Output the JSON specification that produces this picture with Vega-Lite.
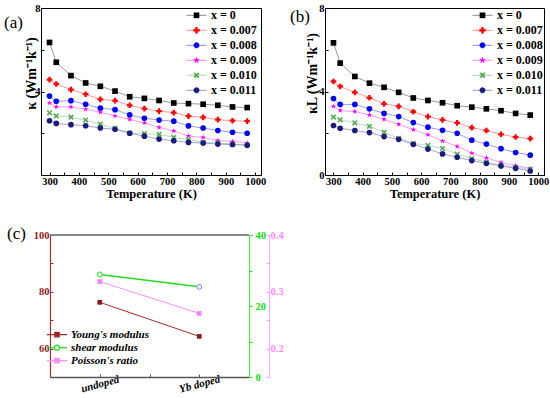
{
  "$schema": "https://vega.github.io/schema/vega-lite/v6.json",
  "padding": {"left": 3, "top": 2, "right": 0, "bottom": 2},
  "config": {"view": {"stroke": null}, "font": "Liberation Serif"},
  "datasets": {
    "ka": [
      {"T":300,"s":"x = 0","k":6.35},{"T":323,"s":"x = 0","k":5.40},{"T":373,"s":"x = 0","k":4.76},{"T":423,"s":"x = 0","k":4.41},{"T":473,"s":"x = 0","k":4.25},{"T":523,"s":"x = 0","k":4.02},{"T":573,"s":"x = 0","k":3.75},{"T":623,"s":"x = 0","k":3.67},{"T":673,"s":"x = 0","k":3.57},{"T":723,"s":"x = 0","k":3.45},{"T":773,"s":"x = 0","k":3.42},{"T":823,"s":"x = 0","k":3.39},{"T":873,"s":"x = 0","k":3.34},{"T":923,"s":"x = 0","k":3.26},{"T":973,"s":"x = 0","k":3.23},
      {"T":300,"s":"x = 0.007","k":4.57},{"T":323,"s":"x = 0.007","k":4.36},{"T":373,"s":"x = 0.007","k":4.09},{"T":423,"s":"x = 0.007","k":3.87},{"T":473,"s":"x = 0.007","k":3.62},{"T":523,"s":"x = 0.007","k":3.56},{"T":573,"s":"x = 0.007","k":3.34},{"T":623,"s":"x = 0.007","k":3.18},{"T":673,"s":"x = 0.007","k":3.06},{"T":723,"s":"x = 0.007","k":2.99},{"T":773,"s":"x = 0.007","k":2.82},{"T":823,"s":"x = 0.007","k":2.76},{"T":873,"s":"x = 0.007","k":2.65},{"T":923,"s":"x = 0.007","k":2.60},{"T":973,"s":"x = 0.007","k":2.58},
      {"T":300,"s":"x = 0.008","k":3.78},{"T":323,"s":"x = 0.008","k":3.53},{"T":373,"s":"x = 0.008","k":3.56},{"T":423,"s":"x = 0.008","k":3.39},{"T":473,"s":"x = 0.008","k":3.20},{"T":523,"s":"x = 0.008","k":3.13},{"T":573,"s":"x = 0.008","k":2.88},{"T":623,"s":"x = 0.008","k":2.72},{"T":673,"s":"x = 0.008","k":2.63},{"T":723,"s":"x = 0.008","k":2.58},{"T":773,"s":"x = 0.008","k":2.35},{"T":823,"s":"x = 0.008","k":2.25},{"T":873,"s":"x = 0.008","k":2.13},{"T":923,"s":"x = 0.008","k":2.05},{"T":973,"s":"x = 0.008","k":2.00},
      {"T":300,"s":"x = 0.009","k":3.45},{"T":323,"s":"x = 0.009","k":3.26},{"T":373,"s":"x = 0.009","k":3.26},{"T":423,"s":"x = 0.009","k":3.15},{"T":473,"s":"x = 0.009","k":3.01},{"T":523,"s":"x = 0.009","k":2.83},{"T":573,"s":"x = 0.009","k":2.66},{"T":623,"s":"x = 0.009","k":2.50},{"T":673,"s":"x = 0.009","k":2.28},{"T":723,"s":"x = 0.009","k":2.11},{"T":773,"s":"x = 0.009","k":1.87},{"T":823,"s":"x = 0.009","k":1.80},{"T":873,"s":"x = 0.009","k":1.65},{"T":923,"s":"x = 0.009","k":1.61},{"T":973,"s":"x = 0.009","k":1.54},
      {"T":300,"s":"x = 0.010","k":2.98},{"T":323,"s":"x = 0.010","k":2.83},{"T":373,"s":"x = 0.010","k":2.77},{"T":423,"s":"x = 0.010","k":2.63},{"T":473,"s":"x = 0.010","k":2.44},{"T":523,"s":"x = 0.010","k":2.24},{"T":573,"s":"x = 0.010","k":2.02},{"T":623,"s":"x = 0.010","k":1.98},{"T":673,"s":"x = 0.010","k":1.95},{"T":723,"s":"x = 0.010","k":1.80},{"T":773,"s":"x = 0.010","k":1.69},{"T":823,"s":"x = 0.010","k":1.57},{"T":873,"s":"x = 0.010","k":1.54},{"T":923,"s":"x = 0.010","k":1.48},{"T":973,"s":"x = 0.010","k":1.46},
      {"T":300,"s":"x = 0.011","k":2.60},{"T":323,"s":"x = 0.011","k":2.47},{"T":373,"s":"x = 0.011","k":2.41},{"T":423,"s":"x = 0.011","k":2.36},{"T":473,"s":"x = 0.011","k":2.25},{"T":523,"s":"x = 0.011","k":2.19},{"T":573,"s":"x = 0.011","k":2.00},{"T":623,"s":"x = 0.011","k":1.86},{"T":673,"s":"x = 0.011","k":1.72},{"T":723,"s":"x = 0.011","k":1.64},{"T":773,"s":"x = 0.011","k":1.56},{"T":823,"s":"x = 0.011","k":1.53},{"T":873,"s":"x = 0.011","k":1.48},{"T":923,"s":"x = 0.011","k":1.46},{"T":973,"s":"x = 0.011","k":1.42}
    ],
    "kl": [
      {"T":300,"s":"x = 0","k":6.33},{"T":323,"s":"x = 0","k":5.36},{"T":373,"s":"x = 0","k":4.72},{"T":423,"s":"x = 0","k":4.40},{"T":473,"s":"x = 0","k":4.20},{"T":523,"s":"x = 0","k":3.96},{"T":573,"s":"x = 0","k":3.69},{"T":623,"s":"x = 0","k":3.57},{"T":673,"s":"x = 0","k":3.46},{"T":723,"s":"x = 0","k":3.32},{"T":773,"s":"x = 0","k":3.25},{"T":823,"s":"x = 0","k":3.17},{"T":873,"s":"x = 0","k":3.08},{"T":923,"s":"x = 0","k":2.95},{"T":973,"s":"x = 0","k":2.87},
      {"T":300,"s":"x = 0.007","k":4.48},{"T":323,"s":"x = 0.007","k":4.24},{"T":373,"s":"x = 0.007","k":3.96},{"T":423,"s":"x = 0.007","k":3.70},{"T":473,"s":"x = 0.007","k":3.41},{"T":523,"s":"x = 0.007","k":3.29},{"T":573,"s":"x = 0.007","k":3.03},{"T":623,"s":"x = 0.007","k":2.80},{"T":673,"s":"x = 0.007","k":2.64},{"T":723,"s":"x = 0.007","k":2.50},{"T":773,"s":"x = 0.007","k":2.27},{"T":823,"s":"x = 0.007","k":2.13},{"T":873,"s":"x = 0.007","k":1.95},{"T":923,"s":"x = 0.007","k":1.82},{"T":973,"s":"x = 0.007","k":1.74},
      {"T":300,"s":"x = 0.008","k":3.66},{"T":323,"s":"x = 0.008","k":3.38},{"T":373,"s":"x = 0.008","k":3.38},{"T":423,"s":"x = 0.008","k":3.17},{"T":473,"s":"x = 0.008","k":2.95},{"T":523,"s":"x = 0.008","k":2.80},{"T":573,"s":"x = 0.008","k":2.51},{"T":623,"s":"x = 0.008","k":2.29},{"T":673,"s":"x = 0.008","k":2.14},{"T":723,"s":"x = 0.008","k":2.00},{"T":773,"s":"x = 0.008","k":1.67},{"T":823,"s":"x = 0.008","k":1.48},{"T":873,"s":"x = 0.008","k":1.26},{"T":923,"s":"x = 0.008","k":1.08},{"T":973,"s":"x = 0.008","k":0.95},
      {"T":300,"s":"x = 0.009","k":3.29},{"T":323,"s":"x = 0.009","k":3.09},{"T":373,"s":"x = 0.009","k":3.04},{"T":423,"s":"x = 0.009","k":2.88},{"T":473,"s":"x = 0.009","k":2.67},{"T":523,"s":"x = 0.009","k":2.43},{"T":573,"s":"x = 0.009","k":2.17},{"T":623,"s":"x = 0.009","k":1.93},{"T":673,"s":"x = 0.009","k":1.63},{"T":723,"s":"x = 0.009","k":1.37},{"T":773,"s":"x = 0.009","k":1.05},{"T":823,"s":"x = 0.009","k":0.82},{"T":873,"s":"x = 0.009","k":0.60},{"T":923,"s":"x = 0.009","k":0.45},{"T":973,"s":"x = 0.009","k":0.31},
      {"T":300,"s":"x = 0.010","k":2.77},{"T":323,"s":"x = 0.010","k":2.64},{"T":373,"s":"x = 0.010","k":2.50},{"T":423,"s":"x = 0.010","k":2.33},{"T":473,"s":"x = 0.010","k":2.05},{"T":523,"s":"x = 0.010","k":1.76},{"T":573,"s":"x = 0.010","k":1.51},{"T":623,"s":"x = 0.010","k":1.42},{"T":673,"s":"x = 0.010","k":1.27},{"T":723,"s":"x = 0.010","k":1.00},{"T":773,"s":"x = 0.010","k":0.79},{"T":823,"s":"x = 0.010","k":0.61},{"T":873,"s":"x = 0.010","k":0.48},{"T":923,"s":"x = 0.010","k":0.37},{"T":973,"s":"x = 0.010","k":0.27},
      {"T":300,"s":"x = 0.011","k":2.37},{"T":323,"s":"x = 0.011","k":2.24},{"T":373,"s":"x = 0.011","k":2.13},{"T":423,"s":"x = 0.011","k":2.03},{"T":473,"s":"x = 0.011","k":1.84},{"T":523,"s":"x = 0.011","k":1.71},{"T":573,"s":"x = 0.011","k":1.47},{"T":623,"s":"x = 0.011","k":1.24},{"T":673,"s":"x = 0.011","k":1.01},{"T":723,"s":"x = 0.011","k":0.85},{"T":773,"s":"x = 0.011","k":0.69},{"T":823,"s":"x = 0.011","k":0.56},{"T":873,"s":"x = 0.011","k":0.43},{"T":923,"s":"x = 0.011","k":0.32},{"T":973,"s":"x = 0.011","k":0.19}
    ],
    "mech": [
      {"cat": 1, "young": 76.3, "shear": 28.9, "poisson": 0.318},
      {"cat": 2, "young": 64.3, "shear": 25.4, "poisson": 0.262}
    ]
  },
  "vconcat": [
    {
      "hconcat": [
        {
          "width": 220, "height": 167,
          "data": {"name": "ka"},
          "view": {"stroke": "black", "strokeWidth": 1},
          "title": {"text": "(a)", "anchor": "start", "frame": "group", "orient": "top", "offset": 0, "dx": -37, "dy": 37, "baseline": "middle", "fontSize": 17, "fontWeight": "normal", "color": "black"},
          "encoding": {
            "x": {"field": "T", "type": "quantitative", "scale": {"domain": [271, 1020], "nice": false, "zero": false},
              "axis": {"values": [300,350,400,450,500,550,600,650,700,750,800,850,900,950,1000], "format": "d", "labelExpr": "datum.value % 100 === 0 ? datum.label : ''", "title": "Temperature (K)", "titleFontSize": 12.5, "titleFontWeight": "bold", "titleColor": "black", "titleY": 18, "titleBaseline": "middle", "labelFontSize": 10.5, "labelFontWeight": "bold", "labelColor": "black", "labelPadding": 4, "tickSize": -3, "tickColor": "black", "domainColor": "black", "grid": false, "labelFlush": false, "labelOverlap": false}},
            "y": {"field": "k", "type": "quantitative", "scale": {"domain": [0, 8], "nice": false},
              "axis": {"values": [0,2,4,6,8], "labelExpr": "datum.value === 4 || datum.value === 8 ? datum.label : ''", "title": "κ (Wm⁻¹k⁻¹)", "titleX": -10, "titleY": 65, "titleBaseline": "middle", "titleFontSize": 14, "titleFontWeight": "bold", "titleColor": "black", "labelFontSize": 10.5, "labelFontWeight": "bold", "labelColor": "black", "labelPadding": 4, "tickSize": -3, "tickColor": "black", "domainColor": "black", "grid": false, "labelFlush": false, "labelOverlap": false}}
          },
          "layer": [
            {"mark": {"type": "line", "strokeWidth": 0.9, "opacity": 0.45},
             "encoding": {"color": {"field": "s", "type": "nominal",
              "scale": {"domain": ["x = 0","x = 0.007","x = 0.008","x = 0.009","x = 0.010","x = 0.011"], "range": ["#000000","#ff0000","#0000ff","#ff00ff","#55aa55","#1a1a80"]},
              "legend": {"orient": "none", "legendX": 145, "legendY": 0, "title": null, "padding": 0, "symbolSize": 400, "symbolOpacity": 1, "clipHeight": 14.6, "rowPadding": 0, "labelOffset": 4, "labelFontSize": 12, "labelFontWeight": "bold", "labelColor": "black",
                "encode": {"symbols": {"update": {
                  "shape": {"signal": "datum.value === 'x = 0' ? 'M-1,0H1M-0.26,-0.26H0.26V0.26H-0.26Z' : datum.value === 'x = 0.007' ? 'M-1,0H1M-0.1,-0.3H0.1V-0.1H0.3V0.1H0.1V0.3H-0.1V0.1H-0.3V-0.1H-0.1Z' : datum.value === 'x = 0.009' ? 'M-1,0H1M0,-0.3L0.072,-0.099L0.285,-0.093L0.114,0.036L0.177,0.243L0,0.12L-0.177,0.243L-0.114,0.036L-0.285,-0.093L-0.072,-0.099Z' : datum.value === 'x = 0.010' ? 'M-1,0H1M-0.27,-0.16L-0.16,-0.27L0,-0.11L0.16,-0.27L0.27,-0.16L0.11,0L0.27,0.16L0.16,0.27L0,0.11L-0.16,0.27L-0.27,0.16L-0.11,0Z' : 'M-1,0H1M-0.27,0A0.27,0.27,0,1,0,0.27,0A0.27,0.27,0,1,0,-0.27,0Z'"},
                  "fill": {"signal": "datum.value === 'x = 0' ? '#000000' : datum.value === 'x = 0.007' ? '#ff0000' : datum.value === 'x = 0.008' ? '#0000ff' : datum.value === 'x = 0.009' ? '#ff00ff' : datum.value === 'x = 0.010' ? '#55aa55' : '#1a1a80'"},
                  "strokeOpacity": {"value": 0.45}, "fillOpacity": {"value": 1}, "opacity": {"value": 1}, "strokeWidth": {"value": 1}
                }}}}}}},
            {"mark": {"type": "point", "filled": true, "size": 32, "opacity": 1},
             "encoding": {
               "fill": {"field": "s", "type": "nominal", "legend": null,
                 "scale": {"domain": ["x = 0.011","x = 0.010","x = 0.009","x = 0.008","x = 0.007","x = 0"], "range": ["#1a1a80","#55aa55","#ff00ff","#0000ff","#ff0000","#000000"]}},
               "shape": {"field": "s", "type": "nominal", "legend": null,
                 "scale": {"domain": ["x = 0.011","x = 0.010","x = 0.009","x = 0.008","x = 0.007","x = 0"], "range": ["circle","M-1,-0.6L-0.6,-1L0,-0.4L0.6,-1L1,-0.6L0.4,0L1,0.6L0.6,1L0,0.4L-0.6,1L-1,0.6L-0.4,0Z","M0,-1L0.24,-0.33L0.95,-0.31L0.38,0.12L0.59,0.81L0,0.4L-0.59,0.81L-0.38,0.12L-0.95,-0.31L-0.24,-0.33Z","circle","cross","square"]}}}}
          ]
        },
        {
          "width": 219, "height": 167,
          "data": {"name": "kl"},
          "view": {"stroke": "black", "strokeWidth": 1},
          "title": {"text": "(b)", "anchor": "start", "frame": "group", "orient": "top", "offset": 0, "dx": -35, "dy": 31, "baseline": "middle", "fontSize": 17, "fontWeight": "normal", "color": "black"},
          "encoding": {
            "x": {"field": "T", "type": "quantitative", "scale": {"domain": [271, 1020], "nice": false, "zero": false},
              "axis": {"values": [300,350,400,450,500,550,600,650,700,750,800,850,900,950,1000], "format": "d", "labelExpr": "datum.value % 100 === 0 ? datum.label : ''", "title": "Temperature (K)", "titleFontSize": 12.5, "titleFontWeight": "bold", "titleColor": "black", "titleY": 18, "titleBaseline": "middle", "labelFontSize": 10.5, "labelFontWeight": "bold", "labelColor": "black", "labelPadding": 4, "tickSize": -3, "tickColor": "black", "domainColor": "black", "grid": false, "labelFlush": false, "labelOverlap": false}},
            "y": {"field": "k", "type": "quantitative", "scale": {"domain": [0, 8], "nice": false},
              "axis": {"values": [0,2,4,6,8], "labelExpr": "datum.value % 4 === 0 ? datum.label : ''", "title": "κL (Wm⁻¹k⁻¹)", "titleX": -13, "titleY": 65, "titleBaseline": "middle", "titleFontSize": 14, "titleFontWeight": "bold", "titleColor": "black", "labelFontSize": 10.5, "labelFontWeight": "bold", "labelColor": "black", "labelPadding": 4, "tickSize": -3, "tickColor": "black", "domainColor": "black", "grid": false, "labelFlush": false, "labelOverlap": false}}
          },
          "layer": [
            {"mark": {"type": "line", "strokeWidth": 0.9, "opacity": 0.45},
             "encoding": {"color": {"field": "s", "type": "nominal",
              "scale": {"domain": ["x = 0","x = 0.007","x = 0.008","x = 0.009","x = 0.010","x = 0.011"], "range": ["#000000","#ff0000","#0000ff","#ff00ff","#55aa55","#1a1a80"]},
              "legend": {"orient": "none", "legendX": 147, "legendY": 0, "title": null, "padding": 0, "symbolSize": 400, "symbolOpacity": 1, "clipHeight": 14.6, "rowPadding": 0, "labelOffset": 4, "labelFontSize": 12, "labelFontWeight": "bold", "labelColor": "black",
                "encode": {"symbols": {"update": {
                  "shape": {"signal": "datum.value === 'x = 0' ? 'M-1,0H1M-0.26,-0.26H0.26V0.26H-0.26Z' : datum.value === 'x = 0.007' ? 'M-1,0H1M-0.1,-0.3H0.1V-0.1H0.3V0.1H0.1V0.3H-0.1V0.1H-0.3V-0.1H-0.1Z' : datum.value === 'x = 0.009' ? 'M-1,0H1M0,-0.3L0.072,-0.099L0.285,-0.093L0.114,0.036L0.177,0.243L0,0.12L-0.177,0.243L-0.114,0.036L-0.285,-0.093L-0.072,-0.099Z' : datum.value === 'x = 0.010' ? 'M-1,0H1M-0.27,-0.16L-0.16,-0.27L0,-0.11L0.16,-0.27L0.27,-0.16L0.11,0L0.27,0.16L0.16,0.27L0,0.11L-0.16,0.27L-0.27,0.16L-0.11,0Z' : 'M-1,0H1M-0.27,0A0.27,0.27,0,1,0,0.27,0A0.27,0.27,0,1,0,-0.27,0Z'"},
                  "fill": {"signal": "datum.value === 'x = 0' ? '#000000' : datum.value === 'x = 0.007' ? '#ff0000' : datum.value === 'x = 0.008' ? '#0000ff' : datum.value === 'x = 0.009' ? '#ff00ff' : datum.value === 'x = 0.010' ? '#55aa55' : '#1a1a80'"},
                  "strokeOpacity": {"value": 0.45}, "fillOpacity": {"value": 1}, "opacity": {"value": 1}, "strokeWidth": {"value": 1}
                }}}}}}},
            {"mark": {"type": "point", "filled": true, "size": 32, "opacity": 1},
             "encoding": {
               "fill": {"field": "s", "type": "nominal", "legend": null,
                 "scale": {"domain": ["x = 0.011","x = 0.010","x = 0.009","x = 0.008","x = 0.007","x = 0"], "range": ["#1a1a80","#55aa55","#ff00ff","#0000ff","#ff0000","#000000"]}},
               "shape": {"field": "s", "type": "nominal", "legend": null,
                 "scale": {"domain": ["x = 0.011","x = 0.010","x = 0.009","x = 0.008","x = 0.007","x = 0"], "range": ["circle","M-1,-0.6L-0.6,-1L0,-0.4L0.6,-1L1,-0.6L0.4,0L1,0.6L0.6,1L0,0.4L-0.6,1L-1,0.6L-0.4,0Z","M0,-1L0.24,-0.33L0.95,-0.31L0.38,0.12L0.59,0.81L0,0.4L-0.59,0.81L-0.38,0.12L-0.95,-0.31L-0.24,-0.33Z","circle","cross","square"]}}}}
          ]
        }
      ],
      "spacing": 64,
      "bounds": "flush",
      "resolve": {"scale": {"color": "independent", "shape": "independent", "fill": "independent"}, "legend": {"color": "independent"}}
    },
    {
      "hconcat": [
        {"width": 1, "height": 1, "data": {"values": []}, "mark": "point"},
        {
          "width": 199, "height": 142,
          "data": {"name": "mech"},
          "title": {"text": "(c)", "anchor": "start", "frame": "group", "orient": "top", "offset": 0, "dx": -43, "dy": 21, "baseline": "middle", "fontSize": 17, "fontWeight": "normal", "color": "black"},
          "layer": [
            {"mark": {"type": "rule", "color": "#808080", "strokeWidth": 1.5},
             "encoding": {"y": {"datum": 100, "type": "quantitative", "scale": {"domain": [50, 100], "nice": false, "zero": false}, "axis": null}}},
            {"mark": {"type": "line", "strokeWidth": 1},
             "encoding": {
               "x": {"field": "cat", "type": "quantitative", "scale": {"domain": [0.5, 2.5], "nice": false, "zero": false},
                 "axis": {"values": [1, 1.5, 2], "labelExpr": "datum.value === 1 ? 'undoped' : datum.value === 2 ? 'Yb doped' : ''", "labelAngle": -15, "labelAlign": "center", "labelBaseline": "middle", "labelPadding": 10, "labelFontStyle": "italic", "labelFontWeight": "bold", "labelFontSize": 11, "labelColor": "black", "title": null, "tickSize": -3, "tickColor": "#555555", "domainColor": "#555555", "domainWidth": 1.5, "grid": false, "labelFlush": false, "labelOverlap": false}},
               "y": {"field": "young", "type": "quantitative", "scale": {"domain": [50, 100], "nice": false, "zero": false},
                 "axis": {"orient": "left", "values": [60,70,80,90,100], "labelExpr": "datum.value % 20 === 0 ? datum.label : ''", "title": null, "labelFontSize": 10.5, "labelFontWeight": "bold", "labelColor": "#8b1a1a", "labelPadding": 4, "tickSize": -3, "tickColor": "#a03030", "domainColor": "#a03030", "domainWidth": 1.2, "grid": false, "labelFlush": false, "labelOverlap": false}},
               "color": {"datum": "Young's modulus", "type": "nominal",
                 "scale": {"domain": ["Young's modulus", "shear modulus", "Poisson's ratio"], "range": ["#a03030", "#22dd22", "#ff8cff"]},
                 "legend": {"orient": "none", "legendX": 5, "legendY": 94, "title": null, "padding": 0, "symbolSize": 400, "clipHeight": 11.3, "rowPadding": 0, "labelOffset": 3, "labelFontSize": 11, "labelFontWeight": "bold", "labelFontStyle": "italic", "labelColor": "black",
                   "encode": {"symbols": {"update": {
                     "shape": {"signal": "datum.value === 'shear modulus' ? 'M-1,0H-0.25M0.25,0H1M-0.25,0A0.25,0.25,0,1,0,0.25,0A0.25,0.25,0,1,0,-0.25,0Z' : 'M-1,0H1M-0.22,-0.22H0.22V0.22H-0.22Z'"},
                     "fill": {"signal": "datum.value === 'shear modulus' ? '#ffffff' : (indexof(datum.value, 'Young') === 0 ? '#8b1a1a' : '#ff8cff')"},
                     "strokeWidth": {"value": 1.3}, "opacity": {"value": 1}, "fillOpacity": {"value": 1}, "strokeOpacity": {"value": 1}
                   }}}}}}},
            {"mark": {"type": "point", "shape": "square", "filled": true, "size": 22, "opacity": 1, "color": "#8b1a1a"},
             "encoding": {"x": {"field": "cat", "type": "quantitative"},
               "y": {"field": "young", "type": "quantitative", "scale": {"domain": [50, 100], "nice": false, "zero": false}, "axis": null}}},
            {"mark": {"type": "line", "strokeWidth": 1.5},
             "encoding": {"x": {"field": "cat", "type": "quantitative"},
               "y": {"field": "shear", "type": "quantitative", "scale": {"domain": [0, 40], "nice": false, "zero": false},
                 "axis": {"orient": "right", "values": [0,10,20,30,40], "labelExpr": "datum.value % 20 === 0 ? datum.label : ''", "title": null, "labelFontSize": 10.5, "labelFontWeight": "bold", "labelColor": "#11dd11", "labelPadding": 3, "tickSize": 3, "tickColor": "#22dd22", "domainColor": "#44ee44", "domainWidth": 1.2, "grid": false, "labelFlush": false, "labelOverlap": false}},
               "color": {"datum": "shear modulus", "type": "nominal"}}},
            {"mark": {"type": "point", "shape": "circle", "filled": false, "size": 24, "opacity": 1, "strokeWidth": 1, "fill": "white"},
             "encoding": {"x": {"field": "cat", "type": "quantitative"},
               "y": {"field": "shear", "type": "quantitative", "scale": {"domain": [0, 40], "nice": false, "zero": false}, "axis": null},
               "stroke": {"field": "cat", "type": "nominal", "scale": {"domain": [1, 2], "range": ["#22dd22", "#7f7fff"]}, "legend": null}}},
            {"mark": {"type": "line", "strokeWidth": 1},
             "encoding": {"x": {"field": "cat", "type": "quantitative"},
               "y": {"field": "poisson", "type": "quantitative", "scale": {"domain": [0.15, 0.4], "nice": false, "zero": false},
                 "axis": {"orient": "right", "offset": 20, "zindex": 1, "values": [0.15,0.2,0.25,0.3,0.35,0.4], "format": ".1f", "labelExpr": "abs(datum.value * 10 - round(datum.value * 10)) < 0.01 ? datum.label : ''", "title": null, "labelFontSize": 10.5, "labelFontWeight": "bold", "labelColor": "#ff8cff", "labelPadding": 4, "tickSize": -3, "tickColor": "#ff99ff", "domainColor": "#ffaaff", "domainWidth": 1.2, "grid": false, "labelFlush": false, "labelOverlap": false}},
               "color": {"datum": "Poisson's ratio", "type": "nominal"}}},
            {"mark": {"type": "point", "shape": "square", "filled": true, "size": 22, "opacity": 1, "color": "#ff80ff"},
             "encoding": {"x": {"field": "cat", "type": "quantitative"},
               "y": {"field": "poisson", "type": "quantitative", "scale": {"domain": [0.15, 0.4], "nice": false, "zero": false}, "axis": null}}}
          ],
          "resolve": {"scale": {"y": "independent"}}
        }
      ],
      "spacing": 8,
      "bounds": "flush"
    }
  ],
  "spacing": 227,
  "bounds": "flush",
  "resolve": {"scale": {"color": "independent", "shape": "independent", "fill": "independent"}, "legend": {"color": "independent"}}
}
